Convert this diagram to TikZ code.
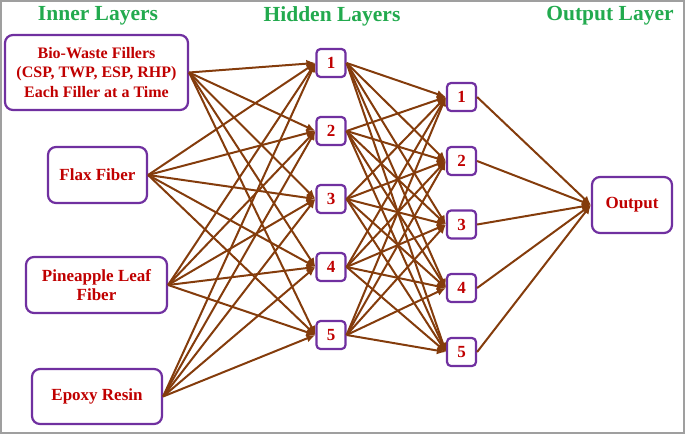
\documentclass[tikz,border=0pt]{standalone}
\usepackage{fontspec}
\setmainfont{Liberation Serif}
\usetikzlibrary{arrows.meta}
\definecolor{titlegreen}{RGB}{34,170,78}
\definecolor{boxpurple}{RGB}{112,48,160}
\definecolor{labelred}{RGB}{192,0,0}
\definecolor{linkbrown}{RGB}{132,60,12}
\tikzset{
  layerbox/.style={draw=boxpurple, line width=2.2pt, rounded corners=8pt, fill=white,
    text=labelred, align=center, inner sep=0pt,
    font=\bfseries\fontsize{17}{19.5}\selectfont},
  unitbox/.style={layerbox, rounded corners=4pt, minimum width=29pt, minimum height=28pt},
  layertitle/.style={text=titlegreen, font=\bfseries\fontsize{21.5}{24}\selectfont},
  link/.style={draw=linkbrown, line width=2pt, -{Latex[length=9pt,width=8pt]}}
}
\begin{document}
\begin{tikzpicture}[x=1pt, y=-1pt]
    \useasboundingbox (0,0) rectangle (685,434);
    % Rahmen
    \draw[gray!75, line width=1.8pt] (0.9,0.9) rectangle (684.1,433.1);

    % Ueberschriften
    \node[layertitle] (tin) at (98,16) {Inner Layers};
    \node[layertitle] (thid) at (332,16) {Hidden Layers};
    \node[layertitle] (tout) at (610,16) {Output Layer};

    % Eingaben (links)
    \node[layerbox, minimum width=183pt, minimum height=75pt,
          font=\bfseries\fontsize{16}{19.5}\selectfont] (in1) at (96.5,72.5)
        {Bio-Waste Fillers\\(CSP, TWP, ESP, RHP)\\Each Filler at a Time};
    \node[layerbox, minimum width=99pt, minimum height=56pt] (in2) at (97.5,175) {Flax Fiber};
    \node[layerbox, minimum width=141pt, minimum height=56pt] (in3) at (96.5,285) {Pineapple Leaf\\Fiber};
    \node[layerbox, minimum width=130pt, minimum height=55pt] (in4) at (97,396.5) {Epoxy Resin};

    % Versteckte Schichten
    \foreach \i/\y in {1/63, 2/131, 3/199, 4/267, 5/335}
        \node[unitbox] (ha\i) at (331,\y) {\i};
    \foreach \i/\y in {1/97, 2/161, 3/224.5, 4/288, 5/352}
        \node[unitbox] (hb\i) at (461.5,\y) {\i};

    % Ausgabe (rechts)
    \node[layerbox, minimum width=80pt, minimum height=56pt] (out) at (632,205) {Output};

    % Verbindungen
    \foreach \a in {1,...,4}
        \foreach \b in {1,...,5}
            \draw[link] (in\a.east) -- (ha\b.west);
    \foreach \a in {1,...,5}
        \foreach \b in {1,...,5}
            \draw[link] (ha\a.east) -- (hb\b.west);
    \foreach \a in {1,...,5}
        \draw[link] (hb\a.east) -- (out.west);
\end{tikzpicture}
\end{document}
